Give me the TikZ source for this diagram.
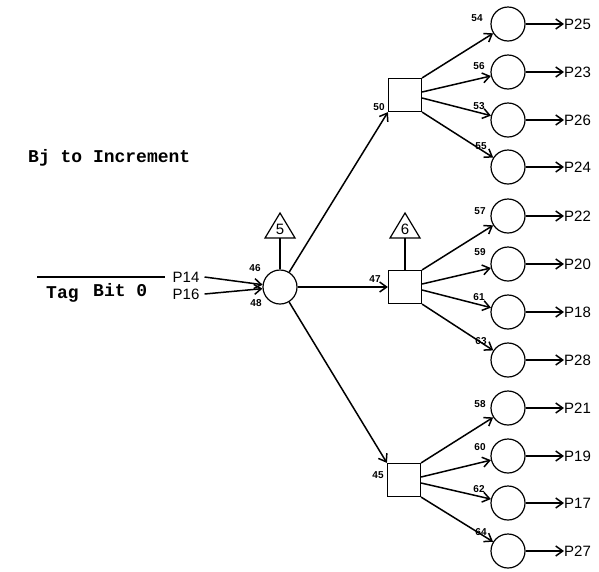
\documentclass[tikz,border=0pt]{standalone}
\usepackage{fontspec}
\setmainfont{Liberation Sans}
\newfontfamily\monob{Liberation Mono}
\usetikzlibrary{arrows.meta}
\begin{document}
\begin{tikzpicture}[x=1pt,y=-1pt,
  circ/.style={circle,draw,line width=1.2pt,minimum size=34pt,inner sep=0pt},
  sq/.style={rectangle,draw,line width=1.2pt,minimum size=33pt,inner sep=0pt},
  arr/.style={line width=1.5pt,-{Straight Barb[length=7pt,width=10pt,line width=1.5pt]}},
  plain/.style={line width=1.4pt},
  num/.style={font=\fontsize{10}{10}\selectfont\bfseries,inner sep=0pt},
  plab/.style={font=\fontsize{15}{15}\selectfont,inner sep=0pt},
  mono/.style={font=\monob\bfseries\fontsize{18}{18}\selectfont,inner sep=0pt,anchor=base west},
  tri/.style={line width=1.2pt}]
\useasboundingbox (0,0) rectangle (599,571);

% left text
\node[mono] (bj) at (28,162) {Bj to Increment};
\coordinate (ol1) at (37,277);
\coordinate (ol2) at (165,277);
\draw[plain] (ol1) -- (ol2);
\node[mono] (tag) at (46,298) {Tag};
\node[mono] (bit) at (93,296) {Bit 0};

% central
\node[circ] (c0) at (280,287) {};
\node[sq] (s50) at (405,95) {};
\node[sq] (s47) at (405,287) {};
\node[sq] (s45) at (404,480) {};

% triangles
\draw[tri] (280,213) -- (295,238) -- (265,238) -- cycle;
\node[plab] (n5) at (280,229) {5};
\coordinate (t5) at (280,238);
\draw[plain] (t5) -- (c0);
\draw[tri] (405,213) -- (420,238) -- (390,238) -- cycle;
\node[plab] (n6) at (405,229) {6};
\coordinate (t6) at (405,238);
\draw[plain] (t6) -- (s47);

% inputs
\node[plab] (p14) at (186,277) {P14};
\node[plab] (p16) at (186,294) {P16};
\draw[arr] ([xshift=5pt]p14.east) -- (c0);
\draw[arr] ([xshift=5pt]p16.east) -- (c0);
\node[num] (l46) at (255,268) {46};
\node[num] (l48) at (256,303) {48};

% central to squares
\draw[arr] (c0) -- (s50.south west);
\draw[arr] (c0) -- (s47);
\draw[arr] (c0) -- (s45.north west);
\node[num] (l50) at (379,107) {50};
\node[num] (l47) at (375,279) {47};
\node[num] (l45) at (378,475) {45};

% right circles
\foreach \n/\y/\p in {54/24/P25,56/72/P23,53/120/P26,55/167/P24,
                      57/216/P22,59/264/P20,61/312/P18,63/360/P28,
                      58/408/P21,60/456/P19,62/503/P17,64/551/P27}{
  \node[circ] (c\n) at (508,\y) {};
  \node[plab,anchor=west] (o\n) at (564,\y) {\p};
  \draw[arr] (c\n) -- (o\n.west);
}

% square to circles
\draw[arr] (s50.north east) -- (c54);
\draw[arr] ([yshift=3pt]s50.east) -- (c56);
\draw[arr] ([yshift=-3pt]s50.east) -- (c53);
\draw[arr] (s50.south east) -- (c55);
\draw[arr] (s47.north east) -- (c57);
\draw[arr] ([yshift=3pt]s47.east) -- (c59);
\draw[arr] ([yshift=-3pt]s47.east) -- (c61);
\draw[arr] (s47.south east) -- (c63);
\draw[arr] (s45.north east) -- (c58);
\draw[arr] ([yshift=3pt]s45.east) -- (c60);
\draw[arr] ([yshift=-3pt]s45.east) -- (c62);
\draw[arr] (s45.south east) -- (c64);

% circle labels
\node[num] at (477,18) {54};
\node[num] at (479,66) {56};
\node[num] at (479,106) {53};
\node[num] at (481,146) {55};
\node[num] at (480,211) {57};
\node[num] at (480,252) {59};
\node[num] at (479,297) {61};
\node[num] at (481,341) {63};
\node[num] at (480,404) {58};
\node[num] at (480,447) {60};
\node[num] at (479,489) {62};
\node[num] at (481,532) {64};
\end{tikzpicture}
\end{document}
